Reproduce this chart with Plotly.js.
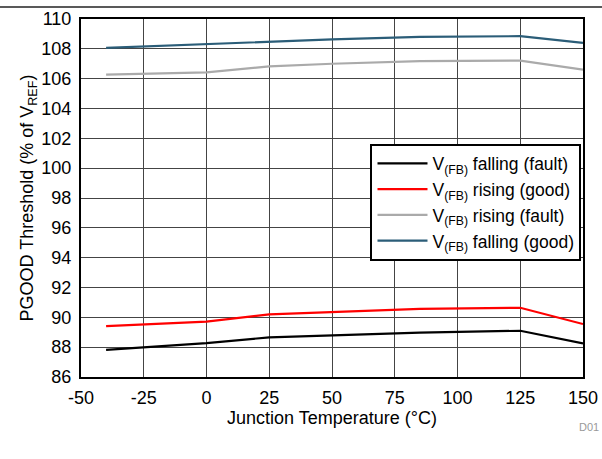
<!DOCTYPE html>
<html><head><meta charset="utf-8">
<script src="https://cdn.plot.ly/plotly-3.0.1.min.js"></script>
<style>html,body{margin:0;padding:0;background:#fff}#plot{width:602px;height:459px}</style>
</head><body><div id="plot"></div>
<script>
const temps = [-40, 0, 25, 50, 85, 125, 150];
const fallingFault = [87.82, 88.27, 88.66, 88.79, 88.97, 89.10, 88.25];
const risingGood = [89.41, 89.71, 90.20, 90.34, 90.57, 90.64, 89.55];
const risingFault = [106.27, 106.42, 106.83, 107.00, 107.17, 107.21, 106.60];
const fallingGood = [108.07, 108.34, 108.51, 108.63, 108.80, 108.85, 108.40];
const seriesNames = ['V<sub>(FB)</sub> falling (fault)', 'V<sub>(FB)</sub> rising (good)', 'V<sub>(FB)</sub> rising (fault)', 'V<sub>(FB)</sub> falling (good)'];
const seriesColors = ['#000000', '#ff0000', '#aaaaaa', '#2b5d78'];
const seriesData = [fallingFault, risingGood, risingFault, fallingGood];
const xTickVals = [-50, -25, 0, 25, 50, 75, 100, 125, 150];
const xTickText = ['-50', '-25', '0', '25', '50', '75', '100', '125', '150'];

const traces = seriesData.map((y, i) => ({
  x: temps, y: y, type: 'scatter', mode: 'lines', name: seriesNames[i],
  line: {color: seriesColors[i], width: 2.2}
}));

const font = {family: 'Liberation Sans, Arial, sans-serif', size: 18, color: '#000'};
const layout = {
  width: 602, height: 459,
  margin: {l: 81, r: 19, t: 19, b: 82},
  paper_bgcolor: '#fff', plot_bgcolor: '#fff',
  font: font,
  showlegend: true,
  legend: {x: 0.997, xanchor: 'right', y: 0.652, yanchor: 'top', bgcolor: '#fff',
    bordercolor: '#000', borderwidth: 2, font: {family: font.family, size: 17.5, color: '#000'},
    tracegroupgap: 0, itemwidth: 50},
  xaxis: {range: [-50, 150], tickvals: xTickVals, ticktext: xTickText, showgrid: true, gridcolor: '#444', gridwidth: 1,
    showline: true, linecolor: '#000', linewidth: 2, mirror: true, ticks: '', zeroline: false,
    ticklabelstandoff: 3,
    tickfont: font, title: {text: 'Junction Temperature (°C)', font: font, standoff: 1}},
  yaxis: {range: [86, 110], dtick: 2, tick0: 86, showgrid: true, gridcolor: '#444', gridwidth: 1,
    showline: true, linecolor: '#000', linewidth: 2, mirror: true, ticks: '', zeroline: false,
    ticklabelstandoff: 4,
    tickfont: font, title: {text: 'PGOOD Threshold (% of V<sub>REF</sub>)', font: font, standoff: 3}},
  shapes: [{type: 'line', xref: 'paper', yref: 'paper', x0: -81/502, x1: 521/502, y0: (459-82-7)/358, y1: (459-82-7)/358,
    line: {color: '#222', width: 1.5}}],
  annotations: [{text: 'D01', xref: 'paper', yref: 'paper', x: 1.035, y: -0.14, xanchor: 'right', yanchor: 'middle',
    showarrow: false, font: {family: font.family, size: 11, color: '#999'}}]
};
Plotly.newPlot('plot', traces, layout, {displayModeBar: false, staticPlot: true});
</script></body></html>
